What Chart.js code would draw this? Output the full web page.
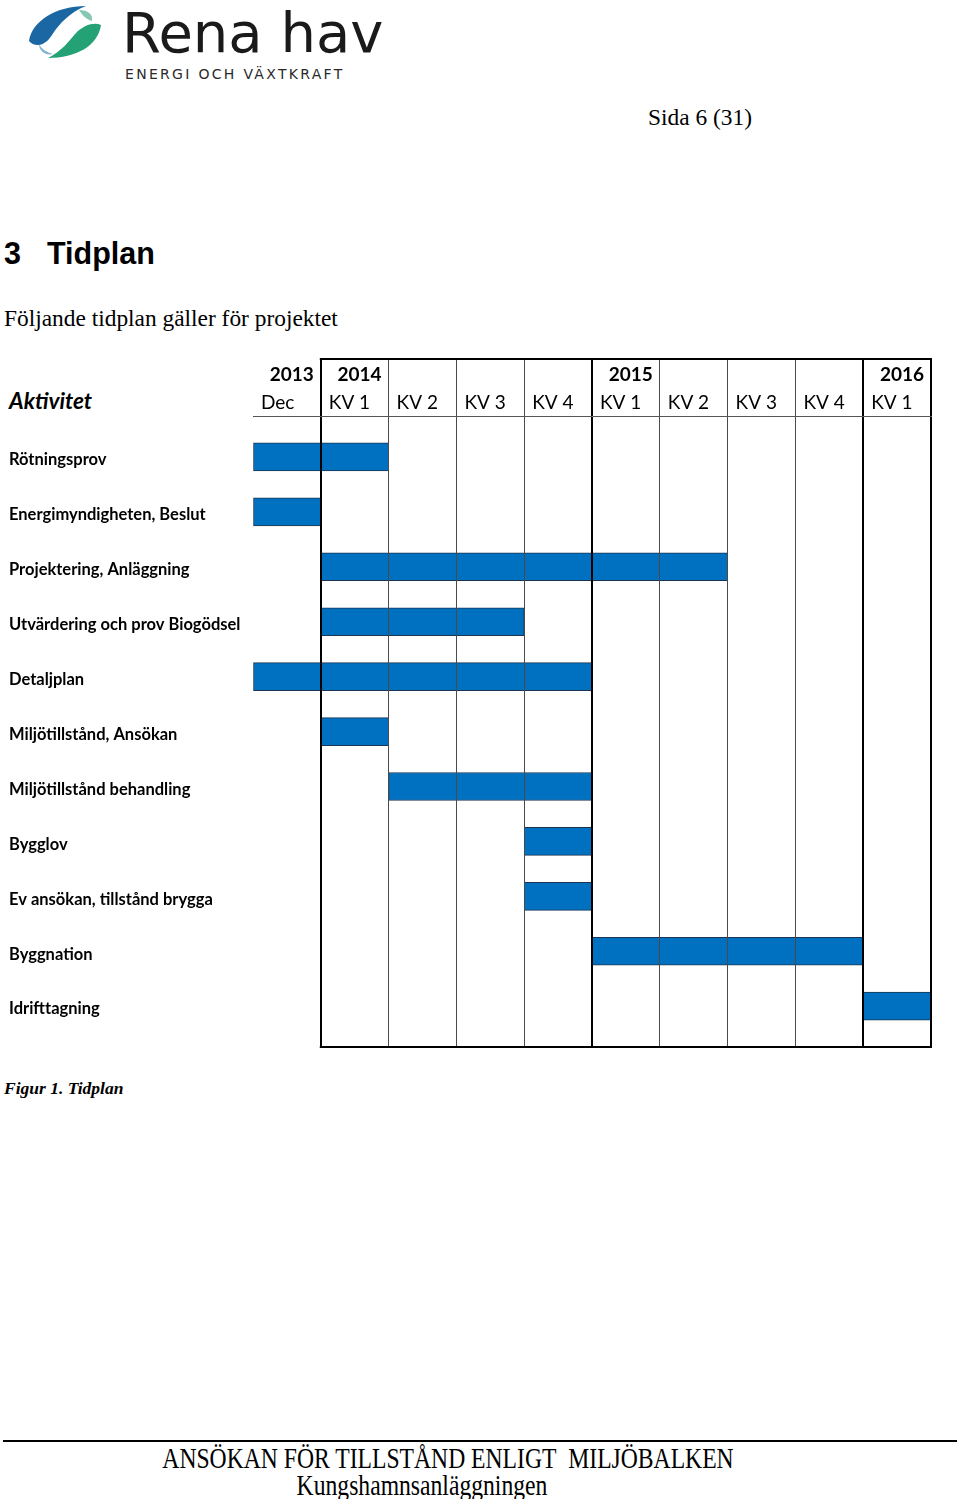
<!DOCTYPE html>
<html>
<head>
<meta charset="utf-8">
<script src="https://cdn.jsdelivr.net/npm/chart.js@4"></script>
<style>
  body { margin: 0; background: #fff; }
  #page { position: relative; width: 960px; height: 1499px; overflow: hidden; }
  .t { position: absolute; white-space: nowrap; color: #000; }
  .serif { font-family: "Liberation Serif", "Times New Roman", serif; }
  #chart { position: absolute; left: 0; top: 340px; }
</style>
</head>
<body>
<div id="page">
  <svg class="t" style="left:0;top:0" width="110" height="64" viewBox="0 0 110 64">
    <path d="M29,41 C32,21 56,6 86,6 C70,12 59,24 52,35 C45,46 35,48 29,41 Z" fill="#1b67a3"/>
    <path d="M101,25 C98,46 76,58 48,58 C62,51 69,41 76,33 C84,25 94,22 101,25 Z" fill="#25a275"/>
    <path d="M79,10 C88,10 93,14 92,21 C86,19 82,15 79,10 Z" fill="#86c7b3"/>
    <path d="M39,44 C42,50 47,52 53,54 C46,56 39,51 39,44 Z" fill="#82b5d2"/>
  </svg>
  <div class="t" style="left:122px;top:5px;font:56px/56px 'DejaVu Sans';color:#1a1a1a">Rena hav</div>
  <div class="t" style="left:125px;top:66px;font:14px/16px 'DejaVu Sans';letter-spacing:2.3px;color:#2a2a2a">ENERGI OCH VÄXTKRAFT</div>

  <div class="t serif" style="left:648px;top:103px;font-size:23.4px;line-height:28px">Sida 6 (31)</div>
  <div class="t" style="left:4px;top:235px;font:bold 30.5px/36px 'Liberation Sans',Arial,sans-serif">3</div>
  <div class="t" style="left:47px;top:235px;font:bold 30.5px/36px 'Liberation Sans',Arial,sans-serif">Tidplan</div>
  <div class="t serif" style="left:4px;top:304px;font-size:23.4px;line-height:28px">Följande tidplan gäller för projektet</div>

  <div class="t" style="left:9px;top:387px;font:italic bold 22.5px/28px Lato,sans-serif">Aktivitet</div>
  <canvas id="chart" width="960" height="720"></canvas>

  <div class="t serif" style="left:4px;top:1077px;font-size:17.5px;line-height:22px;font-weight:bold;font-style:italic">Figur 1. Tidplan</div>

  <div style="position:absolute;left:3px;top:1440px;width:954px;height:2px;background:#000"></div>
  <div class="t serif" style="left:448px;top:1441px;font-size:29px;line-height:34px;transform:translateX(-50%) scaleX(0.815)">ANSÖKAN FÖR TILLSTÅND ENLIGT&nbsp; MILJÖBALKEN</div>
  <div class="t serif" style="left:422px;top:1468px;font-size:29px;line-height:34px;transform:translateX(-50%) scaleX(0.815)">Kungshamnsanläggningen</div>
</div>
<script>
  // rader i tidplanen
  var activities = ['Rötningsprov', 'Energimyndigheten, Beslut', 'Projektering, Anläggning',
    'Utvärdering och prov Biogödsel', 'Detaljplan', 'Miljötillstånd, Ansökan',
    'Miljötillstånd behandling', 'Bygglov', 'Ev ansökan, tillstånd brygga', 'Byggnation', 'Idrifttagning'];
  // kolumn 0 = dec 2013, 1-4 = kv 2014, 5-8 = kv 2015, 9 = kv1 2016
  var startCol = [0, 0, 1, 1, 0, 1, 2, 4, 4, 5, 9];
  var endCol   = [2, 1, 7, 4, 5, 2, 5, 5, 5, 9, 10];
  var quarterLabels = ['Dec', 'KV 1', 'KV 2', 'KV 3', 'KV 4', 'KV 1', 'KV 2', 'KV 3', 'KV 4', 'KV 1'];
  var yearLabels = ['2013', '2014', '', '', '', '2015', '', '', '', '2016'];
  var yearBreaks = [1, 5, 9, 10];

  var bars = activities.map(function (a, i) { return { x: [startCol[i], endCol[i]], y: i }; });

  function colTicks(from, to) {
    var t = [];
    for (var v = from; v <= to; v++) t.push({ value: v });
    return t;
  }
  function lineColor(ctx) {
    var v = ctx.tick.value;
    if (v === 0) return 'rgba(0,0,0,0)';
    return yearBreaks.indexOf(v) >= 0 ? '#000' : '#4a4a4a';
  }
  function lineWidth(ctx) {
    return yearBreaks.indexOf(ctx.tick.value) >= 0 ? 2 : 1;
  }

  var frameLines = {
    id: 'frameLines',
    afterDraw: function (chart) {
      var x = chart.scales.x, area = chart.chartArea, c = chart.ctx;
      var x1 = x.getPixelForValue(1), x2 = x.getPixelForValue(10);
      c.save();
      c.strokeStyle = '#000';
      c.lineWidth = 2;
      c.beginPath();
      c.moveTo(x1 - 1, area.top - 57);
      c.lineTo(x2 + 1, area.top - 57);
      c.moveTo(x1 - 1, area.bottom);
      c.lineTo(x2 + 1, area.bottom);
      c.stroke();
      c.restore();
    }
  };

  var rowMin = -41 / 55;
  var rowMax = rowMin + 632 / 55;

  new Chart(document.getElementById('chart'), {
    type: 'bar',
    data: {
      datasets: [{
        data: bars,
        backgroundColor: '#0070c0',
        borderColor: '#1d3550',
        borderWidth: 1,
        borderSkipped: false,
        barThickness: 28
      }]
    },
    options: {
      indexAxis: 'y',
      responsive: false,
      animation: false,
      devicePixelRatio: 1,
      layout: { padding: { left: 9, right: 29, top: 0, bottom: 12 } },
      plugins: { legend: { display: false }, tooltip: { enabled: false } },
      scales: {
        x: {
          type: 'linear', position: 'top', min: 0, max: 10, weight: 0,
          afterBuildTicks: function (s) { s.ticks = colTicks(0, 10); },
          afterFit: function (s) { s.height = 24; },
          grid: { z: 1, color: lineColor, lineWidth: lineWidth, tickColor: lineColor, tickWidth: lineWidth, tickLength: 57 },
          border: { display: true, z: 2, color: '#555', width: 1 },
          ticks: {
            autoSkip: false, maxRotation: 0, align: 'start', labelOffset: 8, padding: -55,
            color: '#000', font: { family: 'Lato', size: 19 },
            callback: function (v) { return quarterLabels[v] || ''; }
          }
        },
        xYear: {
          type: 'linear', position: 'top', min: 0, max: 10, weight: 1,
          afterBuildTicks: function (s) { s.ticks = colTicks(1, 10); },
          afterFit: function (s) { s.height = 52; },
          grid: { display: false },
          border: { display: false },
          ticks: {
            autoSkip: false, maxRotation: 0, align: 'end', labelOffset: -7, padding: -2,
            color: '#000', font: { family: 'Lato', size: 19, weight: 'bold' },
            callback: function (v) { return yearLabels[v - 1] || ''; }
          }
        },
        y: {
          type: 'linear', reverse: true, min: rowMin, max: rowMax, offset: false,
          afterBuildTicks: function (s) { s.ticks = activities.map(function (a, i) { return { value: i }; }); },
          afterFit: function (s) { s.width = 244; },
          grid: { display: false, offset: false },
          border: { display: false },
          ticks: {
            autoSkip: false, crossAlign: 'far', labelOffset: 3,
            color: '#000', font: { family: 'Lato', size: 16.5, weight: 'bold' },
            callback: function (v) { return activities[v] || ''; }
          }
        }
      }
    },
    plugins: [frameLines]
  });
</script>
</body>
</html>
